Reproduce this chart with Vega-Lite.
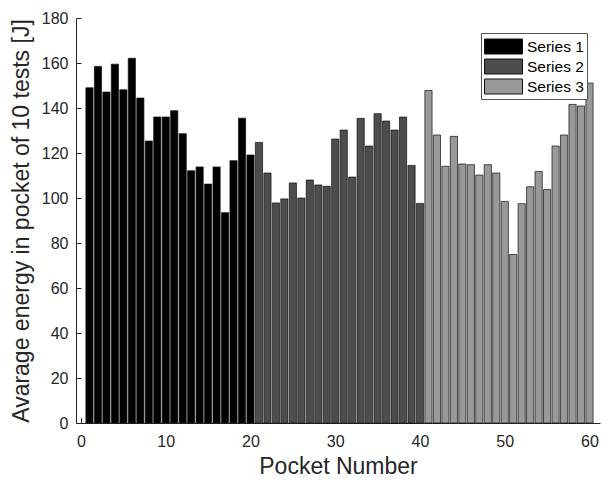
{
  "$schema": "https://vega.github.io/schema/vega-lite/v6.json",
  "width": 524,
  "height": 405,
  "autosize": "none",
  "padding": {"left": 76, "top": 18, "right": 10, "bottom": 57},
  "config": {"font": "Liberation Sans", "view": {"stroke": null}},
  "data": {"values": [
    {"pocket": 1, "energy": 149.0, "series": "Series 1"},
    {"pocket": 2, "energy": 158.5, "series": "Series 1"},
    {"pocket": 3, "energy": 147.1, "series": "Series 1"},
    {"pocket": 4, "energy": 159.5, "series": "Series 1"},
    {"pocket": 5, "energy": 148.1, "series": "Series 1"},
    {"pocket": 6, "energy": 162.1, "series": "Series 1"},
    {"pocket": 7, "energy": 144.4, "series": "Series 1"},
    {"pocket": 8, "energy": 125.3, "series": "Series 1"},
    {"pocket": 9, "energy": 136.0, "series": "Series 1"},
    {"pocket": 10, "energy": 136.0, "series": "Series 1"},
    {"pocket": 11, "energy": 138.8, "series": "Series 1"},
    {"pocket": 12, "energy": 128.6, "series": "Series 1"},
    {"pocket": 13, "energy": 112.1, "series": "Series 1"},
    {"pocket": 14, "energy": 113.8, "series": "Series 1"},
    {"pocket": 15, "energy": 106.2, "series": "Series 1"},
    {"pocket": 16, "energy": 113.8, "series": "Series 1"},
    {"pocket": 17, "energy": 93.5, "series": "Series 1"},
    {"pocket": 18, "energy": 116.6, "series": "Series 1"},
    {"pocket": 19, "energy": 135.5, "series": "Series 1"},
    {"pocket": 20, "energy": 119.1, "series": "Series 1"},
    {"pocket": 21, "energy": 124.7, "series": "Series 2"},
    {"pocket": 22, "energy": 111.1, "series": "Series 2"},
    {"pocket": 23, "energy": 97.8, "series": "Series 2"},
    {"pocket": 24, "energy": 99.6, "series": "Series 2"},
    {"pocket": 25, "energy": 106.7, "series": "Series 2"},
    {"pocket": 26, "energy": 100.0, "series": "Series 2"},
    {"pocket": 27, "energy": 108.0, "series": "Series 2"},
    {"pocket": 28, "energy": 105.8, "series": "Series 2"},
    {"pocket": 29, "energy": 105.2, "series": "Series 2"},
    {"pocket": 30, "energy": 126.2, "series": "Series 2"},
    {"pocket": 31, "energy": 130.2, "series": "Series 2"},
    {"pocket": 32, "energy": 109.3, "series": "Series 2"},
    {"pocket": 33, "energy": 135.4, "series": "Series 2"},
    {"pocket": 34, "energy": 123.1, "series": "Series 2"},
    {"pocket": 35, "energy": 137.5, "series": "Series 2"},
    {"pocket": 36, "energy": 134.2, "series": "Series 2"},
    {"pocket": 37, "energy": 130.2, "series": "Series 2"},
    {"pocket": 38, "energy": 136.0, "series": "Series 2"},
    {"pocket": 39, "energy": 114.5, "series": "Series 2"},
    {"pocket": 40, "energy": 97.6, "series": "Series 2"},
    {"pocket": 41, "energy": 147.8, "series": "Series 3"},
    {"pocket": 42, "energy": 128.0, "series": "Series 3"},
    {"pocket": 43, "energy": 114.1, "series": "Series 3"},
    {"pocket": 44, "energy": 127.4, "series": "Series 3"},
    {"pocket": 45, "energy": 115.1, "series": "Series 3"},
    {"pocket": 46, "energy": 114.8, "series": "Series 3"},
    {"pocket": 47, "energy": 110.2, "series": "Series 3"},
    {"pocket": 48, "energy": 114.8, "series": "Series 3"},
    {"pocket": 49, "energy": 111.1, "series": "Series 3"},
    {"pocket": 50, "energy": 98.5, "series": "Series 3"},
    {"pocket": 51, "energy": 74.9, "series": "Series 3"},
    {"pocket": 52, "energy": 97.5, "series": "Series 3"},
    {"pocket": 53, "energy": 105.0, "series": "Series 3"},
    {"pocket": 54, "energy": 111.8, "series": "Series 3"},
    {"pocket": 55, "energy": 103.8, "series": "Series 3"},
    {"pocket": 56, "energy": 123.1, "series": "Series 3"},
    {"pocket": 57, "energy": 128.0, "series": "Series 3"},
    {"pocket": 58, "energy": 141.6, "series": "Series 3"},
    {"pocket": 59, "energy": 140.9, "series": "Series 3"},
    {"pocket": 60, "energy": 151.1, "series": "Series 3"}
  ]},
  "mark": {"type": "bar", "width": 7.2, "stroke": "#111111", "strokeWidth": 0.7},
  "encoding": {
    "x": {
      "field": "pocket", "type": "quantitative",
      "scale": {"domain": [0, 60.65], "nice": false, "zero": false},
      "axis": {
        "values": [0, 10, 20, 30, 40, 50, 60],
        "title": "Pocket Number",
        "grid": false,
        "tickSize": -5,
        "labelPadding": 15,
        "labelFontSize": 16,
        "labelColor": "#262626",
        "titleFontSize": 23,
        "titleFontWeight": "normal",
        "titleColor": "#262626",
        "titlePadding": 6,
        "domainColor": "#262626",
        "tickColor": "#262626"
      }
    },
    "y": {
      "field": "energy", "type": "quantitative",
      "scale": {"domain": [0, 180], "nice": false},
      "axis": {
        "values": [0, 20, 40, 60, 80, 100, 120, 140, 160, 180],
        "title": "Avarage energy in pocket of 10 tests [J]",
        "grid": false,
        "tickSize": -5,
        "labelPadding": 13,
        "labelFontSize": 16,
        "labelColor": "#262626",
        "titleFontSize": 23,
        "titleFontWeight": "normal",
        "titleColor": "#262626",
        "titlePadding": 8,
        "domainColor": "#262626",
        "tickColor": "#262626"
      }
    },
    "color": {
      "field": "series", "type": "nominal",
      "scale": {"domain": ["Series 1", "Series 2", "Series 3"], "range": ["#000000", "#4d4d4d", "#999999"]},
      "legend": {
        "title": null,
        "orient": "none",
        "legendX": 405,
        "legendY": 15,
        "direction": "vertical",
        "symbolType": "M-1,-0.75H2.8V0.75H-1Z",
        "symbolSize": 400,
        "symbolStrokeColor": "#111111",
        "symbolStrokeWidth": 1,
        "symbolOpacity": 1,
        "labelFontSize": 15.5,
        "labelColor": "#000000",
        "labelOffset": 22,
        "rowPadding": 0,
        "padding": 3,
        "strokeColor": "#555555",
        "fillColor": "white"
      }
    }
  }
}
